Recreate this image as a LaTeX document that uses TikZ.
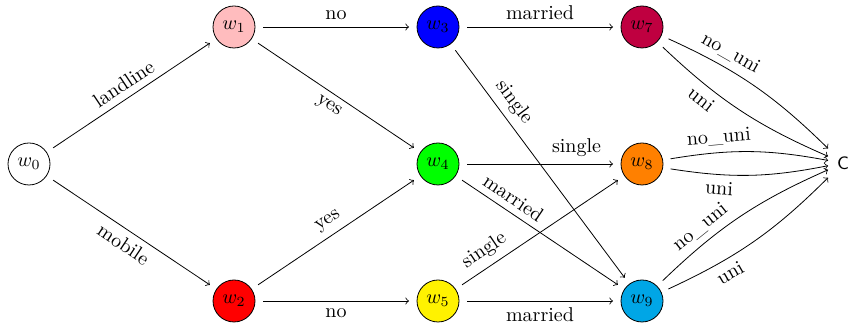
\documentclass[tikz,border=0pt]{standalone}
\definecolor{wpink}{RGB}{255,188,190}
\definecolor{wpurple}{RGB}{191,0,64}
\definecolor{worange}{RGB}{255,128,0}
\definecolor{wcyan}{RGB}{0,166,230}
\begin{document}
\begin{tikzpicture}[x=0.5pt,y=-0.5pt,
  state/.style={circle,draw,minimum size=21pt,inner sep=0pt,outer sep=4pt},
  lab/.style={sloped,pos=0.3}]
\useasboundingbox (0,0) rectangle (850,324);
\node[state] (w0) at (29,164) {$w_0$};
\node[state,fill=wpink] (w1) at (234,27) {$w_1$};
\node[state,fill=red] (w2) at (234,301) {$w_2$};
\node[state,fill=blue] (w3) at (438,27) {$w_3$};
\node[state,fill=green] (w4) at (438,164) {$w_4$};
\node[state,fill=yellow] (w5) at (438,301) {$w_5$};
\node[state,fill=wpurple] (w7) at (642,27) {$w_7$};
\node[state,fill=worange] (w8) at (642,164) {$w_8$};
\node[state,fill=wcyan] (w9) at (642,301) {$w_9$};
\node[font=\small\sffamily,inner sep=2pt,outer sep=2.5pt] (C) at (843,163) {C};

\draw[->] (w0) -- node[above,sloped] {landline} (w1);
\draw[->] (w0) -- node[below,sloped] {mobile} (w2);
\draw[->] (w1) -- node[above] {no} (w3);
\draw[->] (w1) -- node[below,sloped] {yes} (w4);
\draw[->] (w2) -- node[above,sloped] {yes} (w4);
\draw[->] (w2) -- node[below] {no} (w5);
\draw[->] (w3) -- node[above] {married} (w7);
\draw[->] (w3) -- node[above,sloped,pos=0.27] {single} (w9);
\draw[->] (w4) -- node[above,pos=0.75] {single} (w8);
\draw[->] (w4) -- node[above,sloped,pos=0.28] {married} (w9);
\draw[->] (w5) -- node[above,sloped,pos=0.2] {single} (w8);
\draw[->] (w5) -- node[below] {married} (w9);

\draw[->] (w7) to[bend left=10] node[above,lab] {no\_uni} (C);
\draw[->] (w7) to[bend right=10] node[below,lab] {uni} (C);
\draw[->] (w8) to[bend left=10] node[above,lab] {no\_uni} (C);
\draw[->] (w8) to[bend right=10] node[below,lab] {uni} (C);
\draw[->] (w9) to[bend left=10] node[above,lab] {no\_uni} (C);
\draw[->] (w9) to[bend right=10] node[below,lab] {uni} (C);
\end{tikzpicture}
\end{document}
